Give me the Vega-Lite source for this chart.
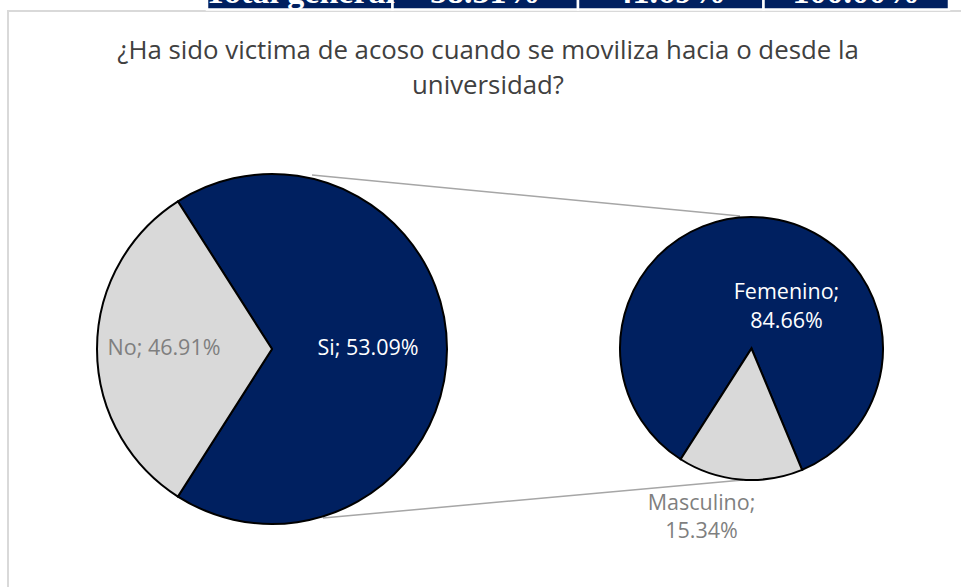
{
  "$schema": "https://vega.github.io/schema/vega-lite/v6.json",
  "width": 961,
  "height": 477,
  "autosize": {"type": "none"},
  "padding": {"top": 110, "left": 0, "right": 0, "bottom": 0},
  "background": "white",
  "config": {"view": {"stroke": null}, "font": "Open Sans"},
  "datasets": {
    "titulo": [
      {"texto": ["¿Ha sido victima de acoso cuando se moviliza hacia o desde la", "universidad?"]}
    ],
    "tabla": [
      {"celda": "Total general"},
      {"celda": "58.31%"},
      {"celda": "41.69%"},
      {"celda": "100.00%"}
    ],
    "principal": [
      {"categoria": "Si", "orden": 1, "porcentaje": 53.09, "valor_graficado": 100, "etiqueta": "Si; 53.09%"},
      {"categoria": "No", "orden": 2, "porcentaje": 46.91, "valor_graficado": 46.91, "etiqueta": "No; 46.91%"}
    ],
    "secundario": [
      {"categoria": "Femenino", "orden": 1, "porcentaje": 84.66, "etiqueta": "Femenino;\n84.66%"},
      {"categoria": "Masculino", "orden": 2, "porcentaje": 15.34, "etiqueta": "Masculino;\n15.34%"}
    ]
  },
  "resolve": {"scale": {"theta": "independent"}},
  "layer": [
    {
      "data": {"values": [{}]},
      "mark": {"type": "rect", "x": 8, "y": -99, "x2": 1000, "y2": 520, "fill": "white", "fillOpacity": 0, "stroke": "#d9d9d9", "strokeWidth": 2},
      "encoding": {}
    },
    {
      "data": {"name": "tabla"},
      "mark": {"type": "rect", "y": -130, "y2": -100.5, "fill": "#002060", "stroke": "white", "strokeWidth": 2.5},
      "encoding": {
        "x": {"field": "celda", "type": "nominal", "sort": null, "scale": {"range": [207, 949], "paddingInner": 0, "paddingOuter": 0}, "axis": null}
      }
    },
    {
      "data": {"name": "tabla"},
      "mark": {"type": "text", "y": -107, "baseline": "alphabetic", "align": "center", "font": "Liberation Serif", "fontWeight": "bold", "fontSize": 34, "fill": "white"},
      "encoding": {
        "x": {"field": "celda", "type": "nominal", "sort": null, "axis": null},
        "text": {"field": "celda", "type": "nominal"}
      }
    },
    {
      "data": {"name": "titulo"},
      "mark": {"type": "text", "x": 488, "y": -51, "baseline": "alphabetic", "align": "center", "lineHeight": 34.5, "font": "Open Sans", "fontSize": 25.8, "fill": "#404040"},
      "encoding": {"text": {"field": "texto"}}
    },
    {
      "data": {"values": [{}]},
      "mark": {"type": "rule", "stroke": "#a6a6a6", "strokeWidth": 1.5},
      "encoding": {"x": {"value": 312}, "y": {"value": 65}, "x2": {"value": 740}, "y2": {"value": 106}}
    },
    {
      "data": {"values": [{}]},
      "mark": {"type": "rule", "stroke": "#a6a6a6", "strokeWidth": 1.5},
      "encoding": {"x": {"value": 323}, "y": {"value": 408}, "x2": {"value": 743}, "y2": {"value": 370}}
    },
    {
      "data": {"name": "principal"},
      "mark": {"type": "arc", "x": 272, "y": 239, "outerRadius": 175, "stroke": "black", "strokeWidth": 2},
      "encoding": {
        "theta": {"field": "valor_graficado", "type": "quantitative", "stack": true, "scale": {"range": [-0.5676, 5.7156]}},
        "order": {"field": "orden", "type": "quantitative"},
        "color": {"field": "categoria", "type": "nominal", "legend": null,
          "scale": {"domain": ["Si", "No", "Femenino", "Masculino"], "range": ["#002060", "#d9d9d9", "#002060", "#d9d9d9"]}}
      }
    },
    {
      "data": {"name": "principal"},
      "mark": {"type": "text", "x": 272, "y": 239, "radius": 102, "dx": -6, "baseline": "middle", "align": "center", "font": "Open Sans", "fontSize": 21.5},
      "encoding": {
        "theta": {"field": "valor_graficado", "type": "quantitative", "stack": true, "scale": {"range": [-0.5676, 5.7156]}},
        "order": {"field": "orden", "type": "quantitative"},
        "text": {"field": "etiqueta", "type": "nominal"},
        "color": {"condition": {"test": "datum.categoria === 'Si'", "value": "white"}, "value": "#7f7f7f"}
      }
    },
    {
      "data": {"name": "secundario"},
      "mark": {"type": "arc", "x": 751.5, "y": 238.5, "outerRadius": 131.5, "stroke": "black", "strokeWidth": 2},
      "encoding": {
        "theta": {"field": "porcentaje", "type": "quantitative", "stack": true, "scale": {"range": [3.7106, 9.9938]}},
        "order": {"field": "orden", "type": "quantitative"},
        "color": {"field": "categoria", "type": "nominal", "legend": null}
      }
    },
    {
      "data": {"name": "secundario"},
      "transform": [{"filter": "datum.categoria === 'Femenino'"}],
      "mark": {"type": "text", "x": 786.5, "y": 189, "baseline": "alphabetic", "align": "center", "lineBreak": "\n", "lineHeight": 29, "font": "Open Sans", "fontSize": 21.5, "fill": "white"},
      "encoding": {"text": {"field": "etiqueta", "type": "nominal"}}
    },
    {
      "data": {"name": "secundario"},
      "transform": [{"filter": "datum.categoria === 'Masculino'"}],
      "mark": {"type": "text", "x": 701.5, "y": 400, "baseline": "alphabetic", "align": "center", "lineBreak": "\n", "lineHeight": 28, "font": "Open Sans", "fontSize": 21.5, "fill": "#7f7f7f"},
      "encoding": {"text": {"field": "etiqueta", "type": "nominal"}}
    }
  ]
}
